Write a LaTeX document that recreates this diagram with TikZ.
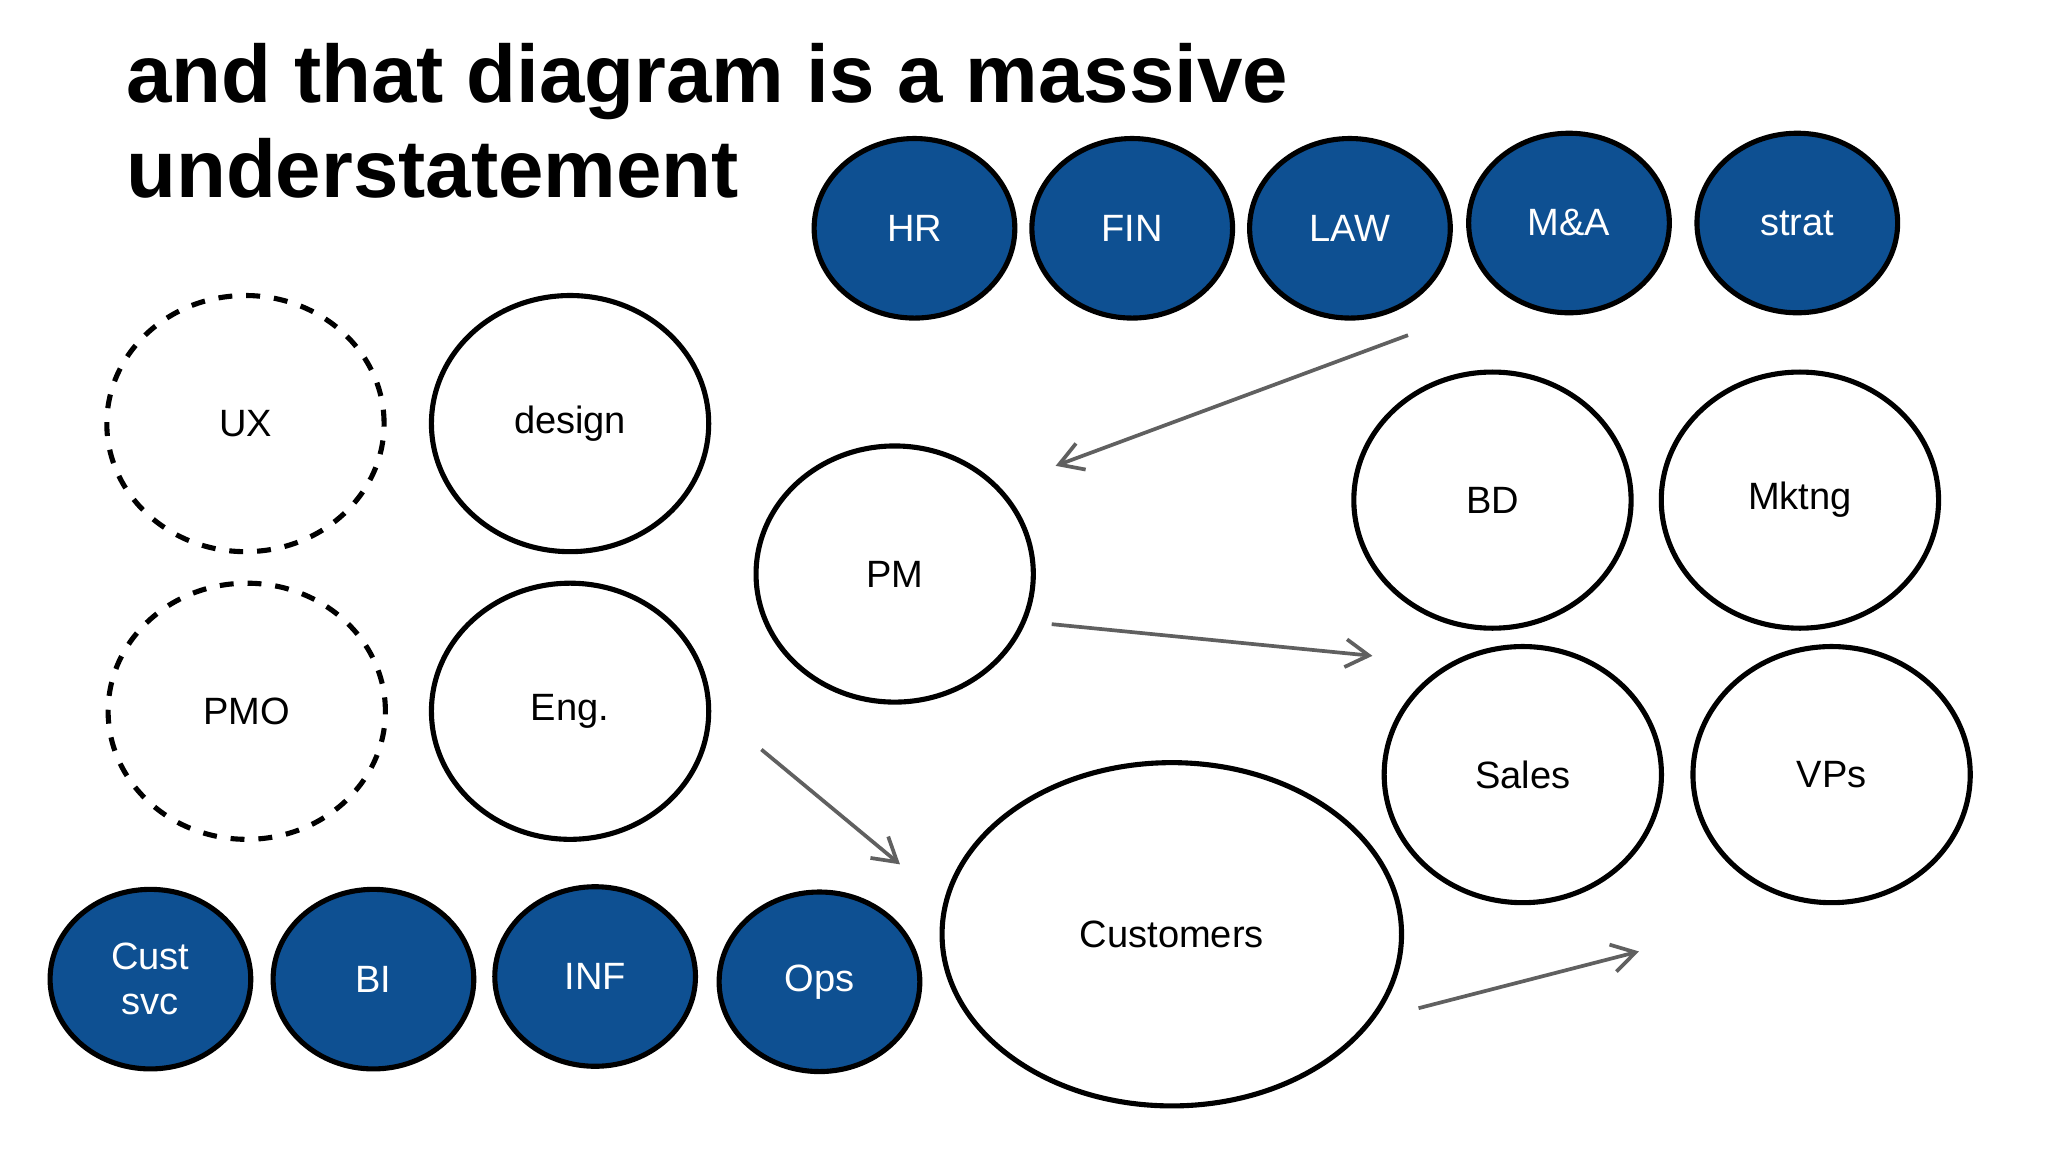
\documentclass[tikz,border=0pt]{standalone}
\usepackage{fontspec}
\setmainfont{Liberation Sans}
\usetikzlibrary{arrows.meta,shapes.geometric}
\definecolor{dblue}{HTML}{0E5092}
\definecolor{agray}{HTML}{606060}
\begin{document}
\begin{tikzpicture}[x=0.01cm,y=-0.01cm,
  big/.style={draw=black,line width=1.1pt,ellipse,minimum width=2.1cm,minimum height=1.94cm,inner sep=0pt,font=\fontsize{8.2pt}{9pt}\selectfont},
  dashnode/.style={big,dashed},
  bluenode/.style={draw=black,line width=1.1pt,fill=dblue,text=white,ellipse,minimum width=1.52cm,minimum height=1.36cm,inner sep=0pt,font=\fontsize{8.2pt}{9.8pt}\selectfont,align=center},
  arr/.style={draw=agray,line width=0.8pt,-{Straight Barb[length=5pt,width=6pt]}}]
\useasboundingbox[fill=white] (0,0) rectangle (1552,873);
\node[anchor=base west,font=\bfseries\fontsize{17.6pt}{20pt}\selectfont,inner sep=0pt] (t1) at (95,78) {and that diagram is a massive};
\node[anchor=base west,font=\bfseries\fontsize{17.6pt}{20pt}\selectfont,inner sep=0pt] (t2) at (95,150) {understatement};
\node[bluenode] (hr) at (693,173) {HR};
\node[bluenode] (fin) at (858,173) {FIN};
\node[bluenode] (law) at (1023,173) {LAW};
\node[bluenode] (ma) at (1189,169) {M\&A};
\node[bluenode] (strat) at (1362,169) {strat};
\node[dashnode] (ux) at (186,321) {UX};
\node[big] (design) at (432,321) {design};
\node[dashnode] (pmo) at (187,539) {PMO};
\node[big] (eng) at (432,539) {Eng.};
\node[big] (pm) at (678,435) {PM};
\node[big] (bd) at (1131,379) {BD};
\node[big] (mk) at (1364,379) {Mktng};
\node[big] (sales) at (1154,587) {Sales};
\node[big] (vps) at (1388,587) {VPs};
\node[big,minimum width=3.48cm,minimum height=2.6cm] (cust) at (888,708) {Customers};
\node[bluenode] (cs) at (114,742) {Cust\\svc};
\node[bluenode] (bi) at (283,742) {BI};
\node[bluenode] (inf) at (451,740) {INF};
\node[bluenode] (ops) at (621,744) {Ops};
\coordinate (a1s) at (1067,254); \coordinate (a1e) at (800,353);
\coordinate (a2s) at (797,473); \coordinate (a2e) at (1040,497);
\coordinate (a3s) at (577,568); \coordinate (a3e) at (682,655);
\coordinate (a4s) at (1075,764); \coordinate (a4e) at (1242,721);
\draw[arr] (a1s) -- (a1e);
\draw[arr] (a2s) -- (a2e);
\draw[arr] (a3s) -- (a3e);
\draw[arr] (a4s) -- (a4e);
\end{tikzpicture}
\end{document}
